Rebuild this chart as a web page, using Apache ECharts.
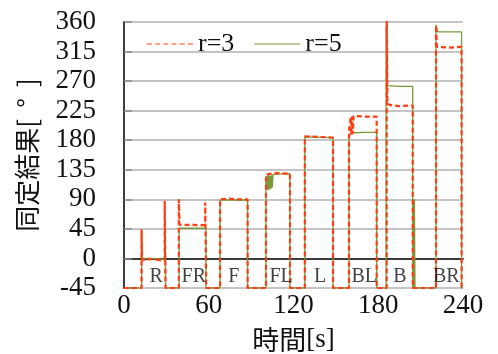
<!DOCTYPE html>
<html>
<head>
<meta charset="utf-8">
<script src="https://cdn.jsdelivr.net/npm/echarts@6/dist/echarts.min.js"></script>
<style>
  html, body { margin: 0; padding: 0; background: #fff; }
  #chart { width: 498px; height: 354px; }
</style>
</head>
<body>
<div id="chart"></div>
<script>
// Estimated heading [deg] over time [s] for two radii; -45 marks "no estimate".
const seriesNames = ['r=3', 'r=5'];

const r3Data = [
  [0, -45], [12.4, -45], [12.4, 44], [12.8, 44], [12.8, -2], [20, -1], [26, -3], [28.8, -2], [28.8, 88], [29.4, 88], [29.4, -45],
  [38.8, -45], [38.8, 90], [39.3, 90], [39.3, 51], [50, 51], [53, 50], [57.5, 51], [57.5, 85], [58.2, 85], [58.2, -45],
  [68, -45], [68, 90], [75, 91], [80, 90], [87.5, 90], [87.5, -45],
  [100.5, -45], [100.5, 128], [108, 130], [117.5, 129], [117.5, -45],
  [128, -45], [128, 186], [138, 185], [148, 184], [148, -45],
  [159.3, -45], [159.3, 195], [160.5, 215], [161, 188], [161.5, 216], [162, 190], [162.5, 217], [170, 216], [178.9, 216], [178.9, -45],
  [186, -45], [186, 362], [186.5, 362], [186.5, 235], [190, 233], [195, 232], [204.4, 233], [204.4, -45],
  [220.9, -45], [220.9, 355], [221.5, 355], [221.5, 322], [230, 321], [239, 322], [239, -45], [240, -45]
];

const r5Data = [
  [0, -45], [12.5, -45], [12.5, 44], [12.9, 44], [12.9, 0], [20, 0], [26, -1], [29, -1], [29, 45], [29.5, 45], [29.5, -45],
  [39, -45], [39, 46], [45, 46], [58, 46], [58, -45],
  [68, -45], [68, 89], [87.5, 89], [87.5, -45],
  [100.5, -45], [100.5, 125], [101, 106], [101.5, 126], [102, 104], [102.5, 127], [103, 105], [103.5, 126], [104, 106],
  [104.5, 127], [105, 108], [105.5, 128], [106, 130], [117.5, 129], [117.5, -45],
  [128, -45], [128, 185], [148, 184], [148, -45],
  [159.3, -45], [159.3, 186], [161, 191], [170, 192], [178.9, 192], [178.9, -45],
  [185.6, -45], [185.6, 354], [186.2, 354], [186.2, 263], [195, 262], [204.4, 262], [204.4, -45],
  [205, -45], [205, 90], [205.3, -45], [205.6, 90], [206, -45],
  [220.9, -45], [220.9, 356], [222, 356], [222, 345], [239, 345], [239, -45], [240, -45]
];

// Direction labels written inside the plot, one per trial
const segLabels = ['R', 'FR', 'F', 'FL', 'L', 'BL', 'B', 'BR'];
const segLabelTimes = [22.7, 49.4, 77.7, 111.2, 138.8, 170.1, 195.4, 228.2];
const segLabelLevel = -28;

const xTicks = { min: 0, max: 240, interval: 60 };
const yTicks = { min: -45, max: 360, interval: 45 };

const serif = '"Liberation Serif", "DejaVu Serif", serif';
const gothic = '"Noto Sans CJK JP", "Noto Sans", sans-serif';

// Legend keys: a dashed stroke for r=3 and a plain stroke for r=5
const dashedKey = 'path://M0,0h5v1h-5z M8,0h5v1h-5z M16,0h5v1h-5z M24,0h5v1h-5z M32,0h5v1h-5z M40,0h5v1h-5z';
const solidKey = 'path://M0,0h45v1h-45z';

const chart = echarts.init(document.getElementById('chart'), null, { renderer: 'canvas' });

chart.setOption({
  animation: false,
  backgroundColor: '#fff',
  grid: { left: 124, right: 35, top: 22, bottom: 66, outerBoundsMode: 'none', containLabel: false },
  legend: {
    data: [{ name: seriesNames[0], icon: dashedKey }, { name: seriesNames[1], icon: solidKey }],
    left: 142,
    top: 26,
    itemWidth: 46,
    itemHeight: 3,
    itemGap: 20,
    textStyle: { fontFamily: serif, fontSize: 26, color: '#111' }
  },
  xAxis: [{
    type: 'value',
    min: xTicks.min, max: xTicks.max, interval: xTicks.interval,
    name: '{j|時間}{s|[s]}',
    nameLocation: 'middle',
    nameGap: 38,
    nameTextStyle: {
      rich: {
        j: { fontFamily: gothic, fontSize: 27, color: '#111' },
        s: { fontFamily: serif, fontSize: 27, color: '#111' }
      }
    },
    axisLine: { show: true, lineStyle: { color: '#8a8a8a', width: 2 } },
    axisTick: { show: false },
    splitLine: { show: false },
    axisLabel: { fontFamily: serif, fontSize: 27, color: '#111', margin: 4 }
  }, {
    type: 'value', position: 'top',
    min: xTicks.min, max: xTicks.max,
    axisLine: { show: true, lineStyle: { color: '#222', width: 1.5 } },
    axisTick: { show: false }, axisLabel: { show: false }, splitLine: { show: false }
  }],
  yAxis: [{
    type: 'value',
    min: yTicks.min, max: yTicks.max, interval: yTicks.interval,
    name: '{a|同定結果[}{d|°}{a|]}',
    nameLocation: 'middle',
    nameGap: 84,
    nameRotate: 90,
    nameTextStyle: {
      rich: {
        a: { fontFamily: gothic, fontSize: 26, color: '#111' },
        d: { fontFamily: gothic, fontSize: 26, color: '#111', width: 32, align: 'left' }
      }
    },
    axisLine: { show: true, lineStyle: { color: '#8a8a8a', width: 2 } },
    axisTick: { show: true, inside: true, length: 8, lineStyle: { color: '#8a8a8a', width: 1.5 } },
    splitLine: { show: true, lineStyle: { color: '#b0b0b0', width: 1.5 } },
    axisLabel: { fontFamily: serif, fontSize: 27, color: '#111', margin: 28 }
  }, {
    type: 'value', position: 'right',
    min: yTicks.min, max: yTicks.max,
    axisLine: { show: true, lineStyle: { color: '#222', width: 1.5 } },
    axisTick: { show: false }, axisLabel: { show: false }, splitLine: { show: false }
  }],
  series: [{
    name: seriesNames[0],
    type: 'line',
    data: r3Data,
    symbol: 'none',
    z: 4,
    lineStyle: { color: '#ff3c12', width: 2.2, type: [5, 3] },
    itemStyle: { color: '#ff3c12' }
  }, {
    name: seriesNames[1],
    type: 'line',
    data: r5Data,
    symbol: 'none',
    z: 3,
    lineStyle: { color: '#779a3a', width: 1.3 },
    itemStyle: { color: '#779a3a' }
  }, {
    name: 'labels',
    type: 'scatter',
    data: segLabelTimes.map((t, i) => ({ value: [t, segLabelLevel], name: segLabels[i] })),
    symbolSize: 0,
    silent: true,
    z: 5,
    label: {
      show: true,
      position: 'inside',
      formatter: p => p.name,
      fontFamily: serif,
      fontSize: 20,
      color: '#111'
    }
  }]
});
</script>
</body>
</html>
